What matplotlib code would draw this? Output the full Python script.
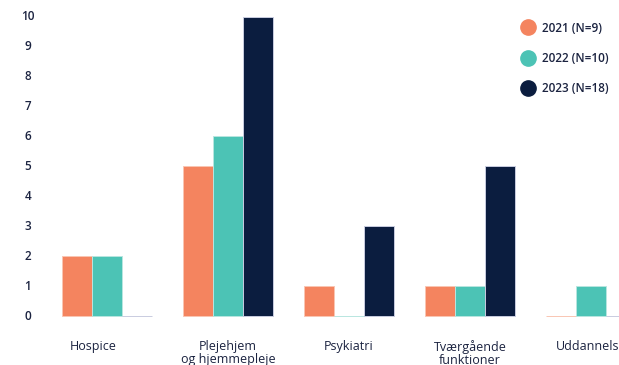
import matplotlib.pyplot as plt
from matplotlib.lines import Line2D
from matplotlib.transforms import ScaledTranslation
import matplotlib.transforms as mtransforms
import numpy as np

plt.rcParams['font.family'] = ['Open Sans', 'DejaVu Sans']

# data
categories = ['Hospice', 'Plejehjem\nog hjemmepleje', 'Psykiatri', 'Tværgående\nfunktioner', 'Uddannelse']
years = ['2021 (N=9)', '2022 (N=10)', '2023 (N=18)']
v2021 = [2, 5, 1, 1, 0]
v2022 = [2, 6, 0, 1, 1]
v2023 = [0, 10, 3, 5, 0]
yticks = list(range(0, 11))
colors = ['#F4845F', '#4CC3B5', '#0B1D3F']
edge_colors = ['#F9C6B3', '#B8E6E0', '#C9CCE0']
text_col = '#1B2340'

fig = plt.figure(figsize=(6.19, 3.65), dpi=100)
ax = fig.add_axes([0.0646, 0.134, 0.935, 0.833])

x = np.arange(len(categories))
w = 0.248
for k, vals in enumerate([v2021, v2022, v2023]):
    ax.bar(x + (k - 1) * w, vals, width=w, color=colors[k],
           edgecolor=edge_colors[k], linewidth=0.7, clip_on=False)

ax.set_xlim(-0.554, 4.23)
ax.set_ylim(0, 10.15)
ax.set_yticks([])
# y labels centred in a column left of the bars
trans = mtransforms.blended_transform_factory(ax.transAxes, ax.transData)
for t in yticks:
    ax.text(-0.021, t, str(t), transform=trans, ha='center', va='center',
            fontsize=8.5, fontweight='semibold', color=text_col, clip_on=False)

ax.set_xticks(x)
ax.set_xticklabels(categories, fontsize=9, color=text_col,
                   linespacing=1.0, fontweight='medium')
ax.tick_params(axis='both', length=0)
ax.tick_params(axis='x', pad=17)
first = ax.get_xticklabels()[0]
first.set_transform(first.get_transform() + ScaledTranslation(-0.14, 0, fig.dpi_scale_trans))
for s in ax.spines.values():
    s.set_visible(False)

handles = [Line2D([0], [0], marker='o', linestyle='', markersize=11,
                  markerfacecolor=c, markeredgecolor=c) for c in colors]
leg = fig.legend(handles, years, loc='upper left', bbox_to_anchor=(0.825, 0.97),
                 frameon=False, fontsize=8.5, labelspacing=1.45,
                 handletextpad=0.55, handlelength=1.2)
for t in leg.get_texts():
    t.set_color(text_col)
    t.set_fontweight('semibold')

fig.savefig('out.png', dpi=100)
